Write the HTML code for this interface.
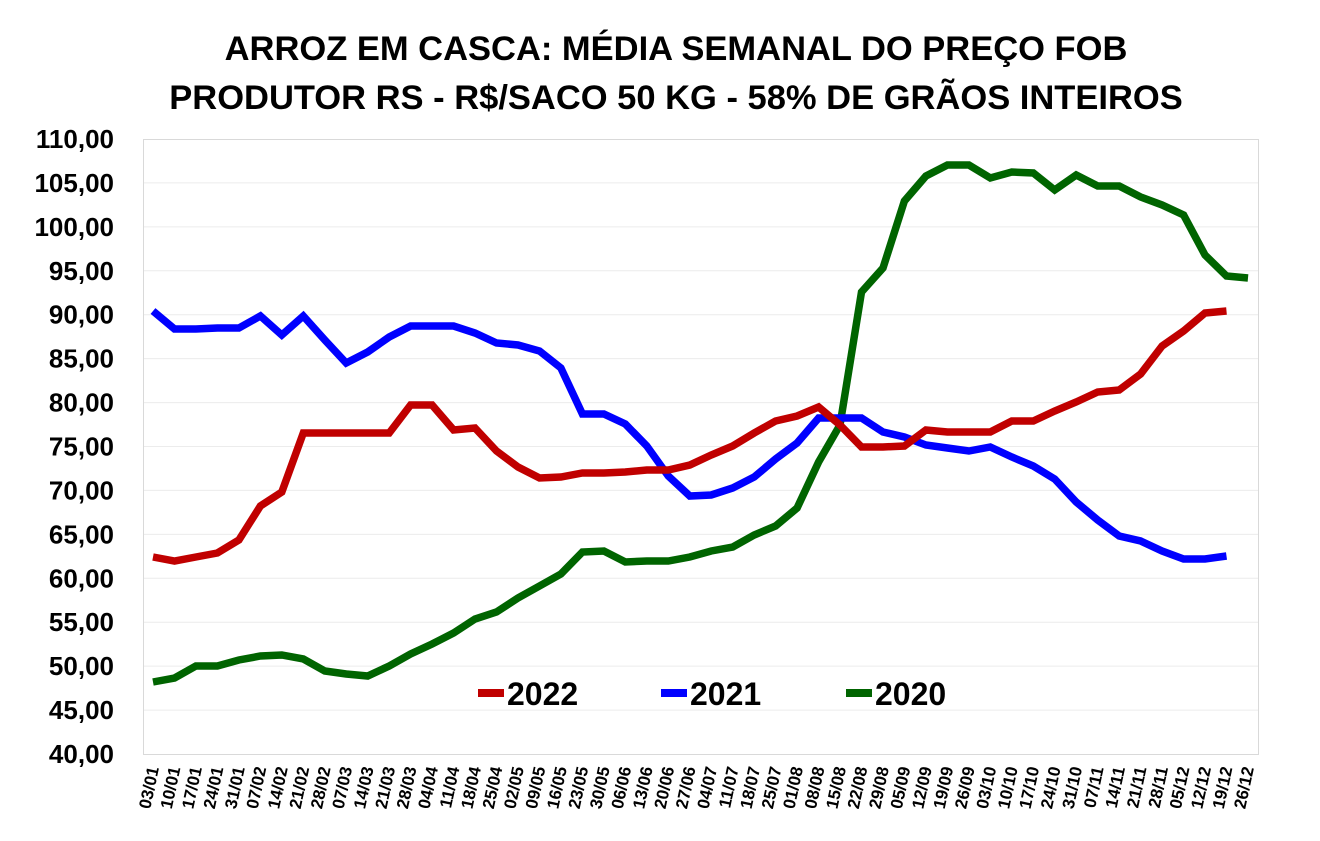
<!DOCTYPE html>
<html><head><meta charset="utf-8"><style>
body{margin:0;background:#fff;}
svg{display:block;font-family:"Liberation Sans",sans-serif;font-weight:bold;}
</style></head><body>
<svg width="1320" height="841" viewBox="0 0 1320 841" xmlns="http://www.w3.org/2000/svg">
<text x="676" y="60" font-size="34.5" text-anchor="middle" fill="#000">ARROZ EM CASCA: MÉDIA SEMANAL DO PREÇO FOB</text>
<text x="676" y="109" font-size="34.5" text-anchor="middle" fill="#000">PRODUTOR RS - R$/SACO 50 KG - 58% DE GRÃOS INTEIROS</text>
<g id="grid" stroke="#ececec" stroke-width="1"></g>
<rect x="143.5" y="139.5" width="1115" height="615" fill="none" stroke="#d9d9d9"/>
<g id="ylab" font-size="26" text-anchor="end" fill="#000"></g>
<g id="xlab" font-size="17" text-anchor="end" fill="#000"></g>
<g fill="none" stroke-width="7.5" stroke-linejoin="miter">
<polyline id="g" stroke="#006400"/>
<polyline id="b" stroke="#0000ff"/>
<polyline id="r" stroke="#c00000"/>
</g>
<rect x="478" y="689" width="26" height="8" fill="#c00000"/>
<text x="507" y="705" font-size="32" fill="#000">2022</text>
<rect x="661" y="689" width="26" height="8" fill="#0000ff"/>
<text x="690" y="705" font-size="32" fill="#000">2021</text>
<rect x="846" y="689" width="26" height="8" fill="#006400"/>
<text x="875" y="705" font-size="32" fill="#000">2020</text>
</svg>
<script>
const NS="http://www.w3.org/2000/svg";
const grid=document.getElementById('grid'),yl=document.getElementById('ylab'),xl=document.getElementById('xlab');
for(let v=40;v<=110;v+=5){const y=754-(v-40)*615/70;
 if(v>40&&v<110){const l=document.createElementNS(NS,'line');l.setAttribute('x1',144);l.setAttribute('x2',1258);l.setAttribute('y1',y);l.setAttribute('y2',y);grid.appendChild(l);}
 const t=document.createElementNS(NS,'text');t.setAttribute('x',114);t.setAttribute('y',y+9);t.textContent=v.toFixed(2).replace('.',',');yl.appendChild(t);}
const labels="03/01 10/01 17/01 24/01 31/01 07/02 14/02 21/02 28/02 07/03 14/03 21/03 28/03 04/04 11/04 18/04 25/04 02/05 09/05 16/05 23/05 30/05 06/06 13/06 20/06 27/06 04/07 11/07 18/07 25/07 01/08 08/08 15/08 22/08 29/08 05/09 12/09 19/09 26/09 03/10 10/10 17/10 24/10 31/10 07/11 14/11 21/11 28/11 05/12 12/12 19/12 26/12".split(' ');
const X=i=>153+21.47*i;
labels.forEach((s,i)=>{const t=document.createElementNS(NS,'text');const x=X(i)+6,y=768;t.setAttribute('transform',`translate(${x},${y}) rotate(-78)`);t.textContent=s;xl.appendChild(t);});
const r=[557,561,557,553,540,506,492,433,433,433,433,433,405,405,430,428,451,467,478,477,473,473,472,470,470,465,455,446,433,421,416,407,425,447,447,446,430,432,432,432,421,421,411,402,392,390,374,346,331,313,311];
const b=[311,329,329,328,328,316,335,316,340,363,352,337,326,326,326,333,343,345,351,368,414,414,424,446,476,496,495,488,477,459,443,418,418,418,432,437,445,448,451,447,457,466,479,502,520,536,541,551,559,559,556];
const g=[682,678,666,666,660,656,655,659,671,674,676,666,654,644,633,619,612,598,586,574,552,551,562,561,561,557,551,547,535,526,508,462,425,292,268,201,176,165,165,178,172,173,190,175,186,186,197,205,215,255,276,278];
[['r',r],['b',b],['g',g]].forEach(([id,a])=>document.getElementById(id).setAttribute('points',a.map((y,i)=>X(i).toFixed(1)+','+y).join(' ')));
</script>
</body></html>
